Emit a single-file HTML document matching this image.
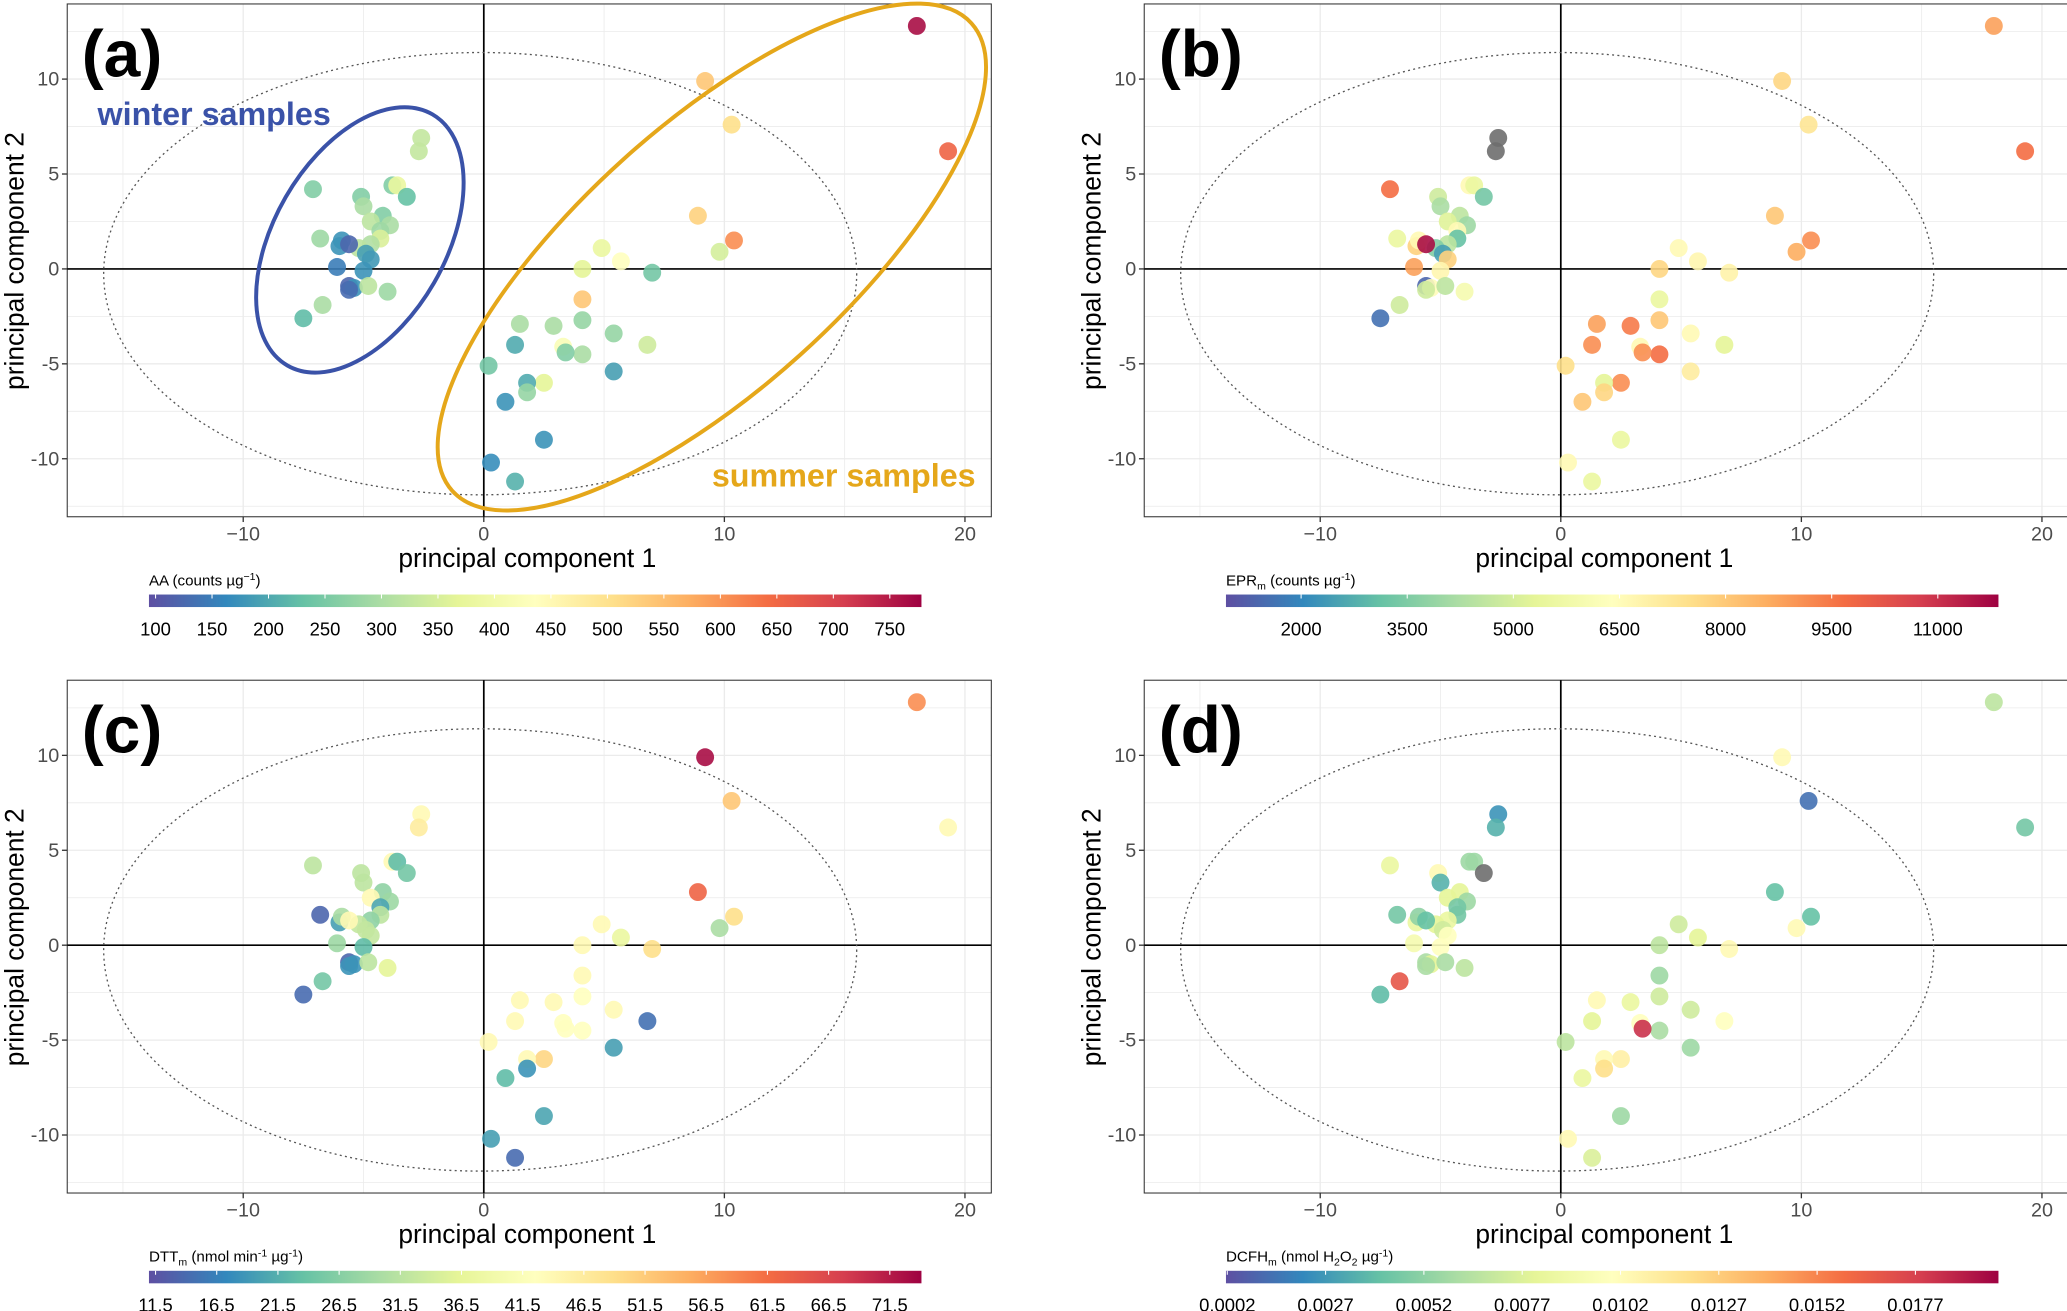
<!DOCTYPE html>
<html><head><meta charset="utf-8"><style>
html,body{margin:0;padding:0;background:#fff}
svg{display:block}
text{font-family:"Liberation Sans",Arial,sans-serif}
</style></head><body>
<svg id="fig" xmlns="http://www.w3.org/2000/svg" width="2067" height="1311" viewBox="0 0 1568 994.5" preserveAspectRatio="none">
<defs>
<linearGradient id="spec" x1="0" x2="1" y1="0" y2="0">
<stop offset="0" stop-color="#5E4FA2"/><stop offset="0.1" stop-color="#3288BD"/><stop offset="0.2" stop-color="#66C2A5"/><stop offset="0.3" stop-color="#ABDDA4"/><stop offset="0.4" stop-color="#E6F598"/><stop offset="0.5" stop-color="#FFFFBF"/><stop offset="0.6" stop-color="#FEE08B"/><stop offset="0.7" stop-color="#FDAE61"/><stop offset="0.8" stop-color="#F46D43"/><stop offset="0.9" stop-color="#D53E4F"/><stop offset="1" stop-color="#9E0142"/>
</linearGradient>
</defs>
</svg>
<script>
// shared PCA scores
const pc1 = [18.0,19.3,9.2,10.3,8.9,10.4,9.8,4.9,5.7,4.1,7.0,4.1,4.1,1.5,2.9,3.3,4.1,3.4,5.4,6.8,1.3,0.2,5.4,2.5,1.8,1.8,0.9,2.5,0.3,1.3,
 -2.6,-2.7,-7.1,-5.1,-5.0,-3.8,-3.6,-3.2,-4.2,-4.7,-3.9,-4.3,-4.3,-4.7,-5.2,-6.8,-6.0,-5.9,-5.6,-4.9,-4.7,-6.1,-5.0,-5.6,-5.4,-5.6,-4.8,-4.0,-6.7,-7.5];
const pc2 = [12.8,6.2,9.9,7.6,2.8,1.5,0.9,1.1,0.4,0.0,-0.2,-1.6,-2.7,-2.9,-3.0,-4.1,-4.5,-4.4,-3.4,-4.0,-4.0,-5.1,-5.4,-6.0,-6.0,-6.5,-7.0,-9.0,-10.2,-11.2,
 6.9,6.2,4.2,3.8,3.3,4.4,4.4,3.8,2.8,2.5,2.3,2.0,1.6,1.3,1.1,1.6,1.2,1.5,1.3,0.8,0.5,0.1,-0.1,-0.9,-1.0,-1.1,-0.9,-1.2,-1.9,-2.6];
// colour levels (position on each colour bar, 0..1; null = missing)
const aaLevel = [0.98,0.82,0.65,0.6,0.63,0.75,0.37,0.42,0.5,0.4,0.22,0.65,0.27,0.3,0.3,0.48,0.3,0.24,0.27,0.36,0.16,0.22,0.14,0.4,0.16,0.27,0.12,0.12,0.11,0.17,
 0.34,0.34,0.24,0.24,0.3,0.24,0.42,0.2,0.24,0.33,0.3,0.28,0.38,0.31,0.33,0.28,0.12,0.12,0.04,0.14,0.13,0.08,0.12,0.04,0.12,0.05,0.33,0.28,0.3,0.19];
const eprLevel = [0.72,0.8,0.62,0.58,0.65,0.75,0.7,0.52,0.53,0.62,0.54,0.42,0.65,0.72,0.78,0.52,0.8,0.75,0.52,0.4,0.75,0.6,0.56,0.75,0.4,0.62,0.65,0.42,0.52,0.42,
 null,null,0.8,0.36,0.3,0.52,0.42,0.22,0.33,0.39,0.28,0.52,0.2,0.33,0.24,0.42,0.63,0.52,0.98,0.14,0.63,0.72,0.53,0.04,0.51,0.36,0.33,0.46,0.36,0.06];
const dttLevel = [0.75,0.52,0.98,0.65,0.82,0.6,0.3,0.52,0.42,0.52,0.6,0.52,0.5,0.52,0.52,0.5,0.5,0.5,0.52,0.06,0.52,0.52,0.14,0.62,0.52,0.12,0.19,0.15,0.14,0.05,
 0.52,0.56,0.33,0.33,0.33,0.52,0.19,0.22,0.26,0.52,0.28,0.15,0.33,0.26,0.34,0.04,0.14,0.3,0.52,0.34,0.34,0.28,0.19,0.04,0.12,0.12,0.33,0.4,0.22,0.05];
const dcfhLevel = [0.33,0.22,0.52,0.06,0.2,0.2,0.52,0.36,0.4,0.33,0.52,0.28,0.36,0.52,0.42,0.5,0.3,0.92,0.36,0.5,0.4,0.33,0.28,0.55,0.52,0.6,0.42,0.28,0.52,0.38,
 0.12,0.17,0.42,0.52,0.17,0.28,0.28,null,0.4,0.4,0.28,0.22,0.22,0.42,0.4,0.22,0.42,0.26,0.2,0.36,0.5,0.46,0.5,0.3,0.4,0.3,0.3,0.33,0.85,0.19];
// colour-bar tick labels
const aaTicks = [100,150,200,250,300,350,400,450,500,550,600,650,700,750];
const eprTicks = [2000,3500,5000,6500,8000,9500,11000];
const dttTicks = ["11.5","16.5","21.5","26.5","31.5","36.5","41.5","46.5","51.5","56.5","61.5","66.5","71.5"];
const dcfhTicks = ["0.0002","0.0027","0.0052","0.0077","0.0102","0.0127","0.0152","0.0177"];
const xTicks = [-10,0,10,20];
const yTicks = [10,5,0,-5,-10];

const NS="http://www.w3.org/2000/svg";
const svg=document.getElementById('fig');
function mk(tag,attrs,parent){const e=document.createElementNS(NS,tag);for(const k in attrs)e.setAttribute(k,attrs[k]);(parent||svg).appendChild(e);return e;}
const stops=["#5E4FA2","#3288BD","#66C2A5","#ABDDA4","#E6F598","#FFFFBF","#FEE08B","#FDAE61","#F46D43","#D53E4F","#9E0142"];
function hx(c){return [parseInt(c.substr(1,2),16),parseInt(c.substr(3,2),16),parseInt(c.substr(5,2),16)];}
function cmap(t){if(t===null)return "#6e6e6e";t=Math.max(0,Math.min(1,t));const f=t*10,i=Math.min(9,Math.floor(f)),r=f-i;const a=hx(stops[i]),b=hx(stops[i+1]);return `rgb(${a.map((v,k)=>Math.round(v+(b[k]-v)*r)).join(',')})`;}

const panels=[
 {id:'a',ox:0,oy:0,levels:aaLevel,ticks:aaTicks,title:'AA (counts µg<tspan dy="-4" font-size="8">−1</tspan><tspan dy="4">)</tspan>'},
 {id:'b',ox:817,oy:0,levels:eprLevel,ticks:eprTicks,title:'EPR<tspan dy="3" font-size="8">m</tspan><tspan dy="-3"> (counts µg</tspan><tspan dy="-4" font-size="8">-1</tspan><tspan dy="4">)</tspan>'},
 {id:'c',ox:0,oy:513,levels:dttLevel,ticks:dttTicks,title:'DTT<tspan dy="3" font-size="8">m</tspan><tspan dy="-3"> (nmol min</tspan><tspan dy="-4" font-size="8">-1</tspan><tspan dy="4"> µg</tspan><tspan dy="-4" font-size="8">-1</tspan><tspan dy="4">)</tspan>'},
 {id:'d',ox:817,oy:513,levels:dcfhLevel,ticks:dcfhTicks,title:'DCFH<tspan dy="3" font-size="8">m</tspan><tspan dy="-3"> (nmol H</tspan><tspan dy="3" font-size="8">2</tspan><tspan dy="-3">O</tspan><tspan dy="3" font-size="8">2</tspan><tspan dy="-3"> µg</tspan><tspan dy="-4" font-size="8">-1</tspan><tspan dy="4">)</tspan>'}
];

panels.forEach(p=>{
 const g=mk('g',{});
 
 
 const X=v=>p.ox+367+v*18.25, Y=v=>p.oy+204-v*14.4;
 const L=p.ox+51,R=p.ox+752,T=p.oy+3,B=p.oy+392;
 [-15,-10,-5,0,5,10,15,20].forEach(v=>{const l=mk('line',{x1:X(v),x2:X(v),y1:T,y2:B,stroke:'#ebebeb','stroke-width':v%10===0?1:0.6},g);});
 [-12.5,-10,-7.5,-5,-2.5,0,2.5,5,7.5,10,12.5].forEach(v=>{const l=mk('line',{x1:L,x2:R,y1:Y(v),y2:Y(v),stroke:'#ebebeb','stroke-width':v%5===0?1:0.6},g);});
 const fr=mk('rect',{x:L,y:T,width:R-L,height:B-T,fill:'none',stroke:'#333','stroke-width':0.8},g);
 
 const ax=mk('line',{x1:X(0),x2:X(0),y1:T,y2:B,stroke:'#000','stroke-width':1.3},g);
 const ay=mk('line',{x1:L,x2:R,y1:Y(0),y2:Y(0),stroke:'#000','stroke-width':1.3},g);
 const el=mk('ellipse',{cx:X(-0.15),cy:Y(-0.25),rx:15.65*18.25,ry:11.65*14.4,fill:'none',stroke:'#555','stroke-width':1,'stroke-dasharray':'1.5 2.5'},g);
 
 xTicks.forEach(v=>{mk('line',{x1:X(v),x2:X(v),y1:B,y2:B+4,stroke:'#333'},g);const t=mk('text',{x:X(v),y:B+18,'text-anchor':'middle','font-size':15,fill:'#4d4d4d'},g);t.textContent=v===-10?'−10':v;});
 yTicks.forEach(v=>{mk('line',{x1:L-4,x2:L,y1:Y(v),y2:Y(v),stroke:'#333'},g);const t=mk('text',{x:L-6,y:Y(v)+5,'text-anchor':'end','font-size':15,fill:'#4d4d4d'},g);t.textContent=v<0?'-'+(-v):v;});
 const xt=mk('text',{x:p.ox+400,y:p.oy+430,'text-anchor':'middle','font-size':20,fill:'#000'},g);xt.textContent='principal component 1';
 const yt=mk('text',{x:0,y:0,'text-anchor':'middle','font-size':20,fill:'#000',transform:`translate(${p.ox+18},${p.oy+198}) rotate(-90)`},g);yt.textContent='principal component 2';
 pc1.forEach((v,i)=>{const c=mk('circle',{cx:X(v),cy:Y(pc2[i]),r:6.8,fill:cmap(p.levels[i]),'fill-opacity':0.9},g);});
 const pl=mk('text',{x:p.ox+62,y:p.oy+58,'font-size':50,'font-weight':'bold',fill:'#000'},g);pl.textContent='('+p.id+')';
 const cb=mk('rect',{x:p.ox+113,y:p.oy+451,width:586,height:9.5,fill:'url(#spec)'},g);
 const ct=mk('text',{x:p.ox+113,y:p.oy+444,'font-size':11.5,fill:'#000'},g);ct.innerHTML=p.title;
 const n=p.ticks.length;
 p.ticks.forEach((v,i)=>{
  let xx;
  if(p.id==='b') xx=p.ox+170+(v-2000)/9000*(653-170);
  else if(p.id==='d') xx=p.ox+114+i*(636-114)/(n-1);
  else xx=p.ox+118+(675-118)*i/(n-1);
  mk('line',{x1:xx,x2:xx,y1:p.oy+451,y2:p.oy+454,stroke:'#fff','stroke-width':0.8},g);
  const t=mk('text',{x:xx,y:p.oy+482,'text-anchor':'middle','font-size':14,fill:'#000'},g);t.textContent=v;
 });
 if(p.id==='a'){
  const w=mk('ellipse',{cx:273,cy:182,rx:65,ry:110,fill:'none',stroke:'#3A52A8','stroke-width':3,transform:'rotate(30 273 182)'},g);
  const s=mk('ellipse',{cx:540,cy:195,rx:265,ry:100,fill:'none',stroke:'#E5A71A','stroke-width':3,transform:'rotate(-42 540 195)'},g);
  const wt=mk('text',{x:74,y:95,'font-size':24.5,'font-weight':'bold',fill:'#3A52A8'},g);wt.textContent='winter samples';
  const st=mk('text',{x:540,y:369,'font-size':24.5,'font-weight':'bold',fill:'#E5A71A'},g);st.textContent='summer samples';
 }
});
</script>
</body></html>
